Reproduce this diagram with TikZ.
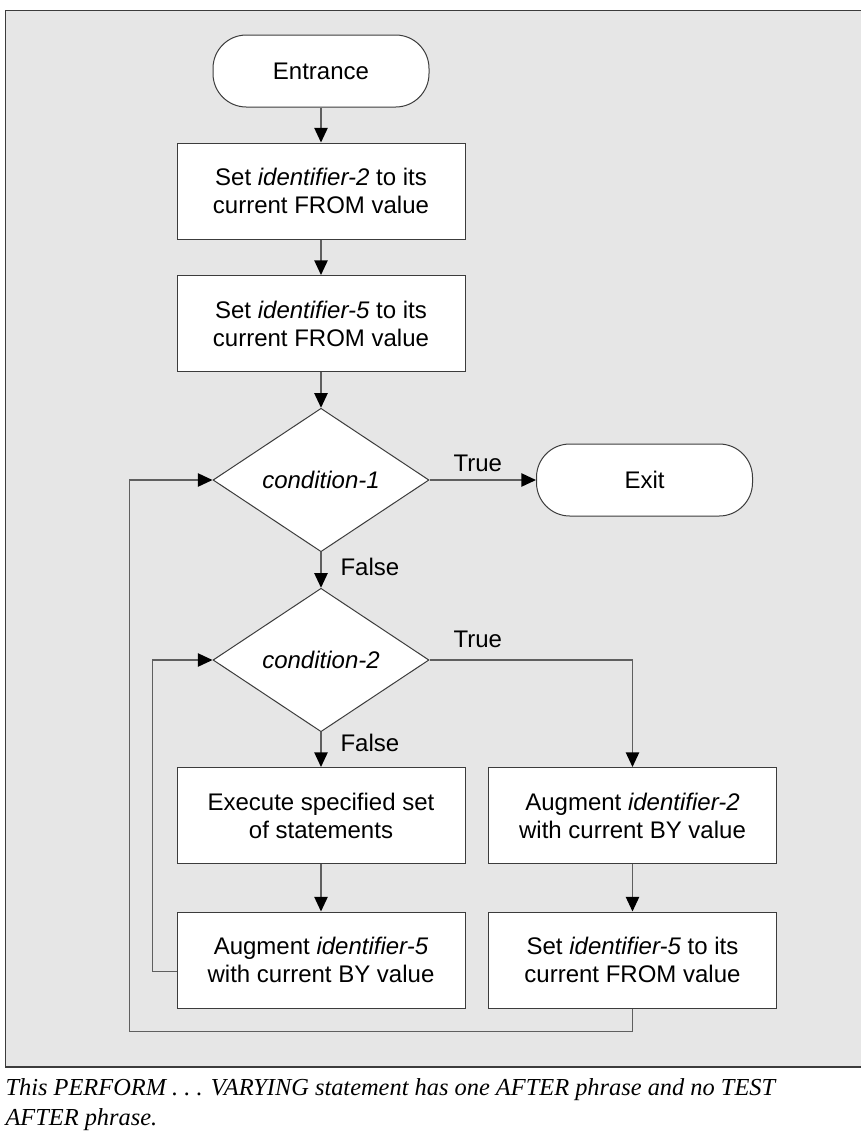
\documentclass[tikz,border=0pt]{standalone}
\usepackage{fontspec}
\setmainfont{Liberation Serif}
\newfontfamily\flowfont{Liberation Sans}
\usetikzlibrary{shapes.geometric,arrows.meta}

\definecolor{panelgray}{RGB}{230,230,230}
\definecolor{edgegray}{RGB}{60,60,60}
\definecolor{wiregray}{RGB}{95,95,95}

\tikzset{every picture/.style={line width=0.75pt}}
\tikzset{
  flowtext/.style={font=\flowfont\fontsize{18}{21}\selectfont},
  termnode/.style={flowtext, draw=edgegray, fill=white, rounded corners=25pt,
    minimum width=162pt, minimum height=54pt, inner sep=0pt},
  boxnode/.style={flowtext, draw=edgegray, fill=white, align=center,
    minimum width=216pt, minimum height=72pt, inner sep=0pt},
  testnode/.style={flowtext, diamond, draw=edgegray, fill=white, aspect=1.5,
    minimum width=162pt, minimum height=107.6pt, inner sep=0pt},
  wire/.style={draw=wiregray, line width=1.1pt},
  flow/.style={wire, -{Triangle[length=11pt,width=10pt,color=black]}},
  branch/.style={flowtext, anchor=base west, inner sep=0pt}
}

\begin{document}
\begin{tikzpicture}[x=0.75pt,y=0.75pt,yscale=-1,xscale=1]
\useasboundingbox (0,0) rectangle (861,1133);

%Panel behind the chart
\fill[panelgray] (5,10) rectangle (861,1067);
\draw[edgegray] (861,10) -- (5,10) -- (5,1067);
\draw[edgegray, line width=1.5pt] (5,1067) -- (861,1067);

%Terminators
\node[termnode] (entrance) at (321,71) {Entrance};
\node[termnode] (exit) at (644.5,480) {Exit};

%Boxes
\node[boxnode] (setid2) at (321,191) {Set \textit{identifier-2} to its\\current FROM value};
\node[boxnode] (setid5) at (321,323.5) {Set \textit{identifier-5} to its\\current FROM value};
\node[boxnode] (execute) at (321,815.5) {Execute specified set\\of statements};
\node[boxnode] (augid2) at (632.5,815.5) {Augment \textit{identifier-2}\\with current BY value};
\node[boxnode] (augid5) at (321,960) {Augment \textit{identifier-5}\\with current BY value};
\node[boxnode] (resetid5) at (632.5,960) {Set \textit{identifier-5} to its\\current FROM value};

%Tests
\node[testnode] (cond1) at (321,480) {\itshape condition-1};
\node[testnode] (cond2) at (321,660) {\itshape condition-2};

%Bends of the two loops
\coordinate (outerloop) at (129.3,1031.7);
\coordinate (innerloop) at (152.7,971.7);

%Connectors
\draw[flow] (entrance) -- (setid2);
\draw[flow] (setid2) -- (setid5);
\draw[flow] (setid5) -- (cond1);
\draw[flow] (cond1) -- (exit);
\draw[flow] (cond1) -- (cond2);
\draw[flow] (cond2) -- (execute);
\draw[flow] (cond2.east) -| (augid2.north);
\draw[flow] (execute) -- (augid5);
\draw[flow] (augid2) -- (resetid5);
\draw[flow] (augid5.west |- innerloop) -- (innerloop) |- (cond2.west);
\draw[flow] (resetid5.south) |- (outerloop) |- (cond1.west);

% Text Node
\node[branch] (true1) at (453,471) {True};
% Text Node
\node[branch] (false1) at (340,575) {False};
% Text Node
\node[branch] (true2) at (453,647) {True};
% Text Node
\node[branch] (false2) at (340,751) {False};

% Caption
\node[anchor=north west, align=left, inner sep=0pt,
  font=\itshape\fontsize{18.3}{22.5}\selectfont] (caption) at (5,1078)
  {This PERFORM .~.~. VARYING statement has one AFTER phrase and no TEST\\AFTER phrase.};

\end{tikzpicture}
\end{document}
